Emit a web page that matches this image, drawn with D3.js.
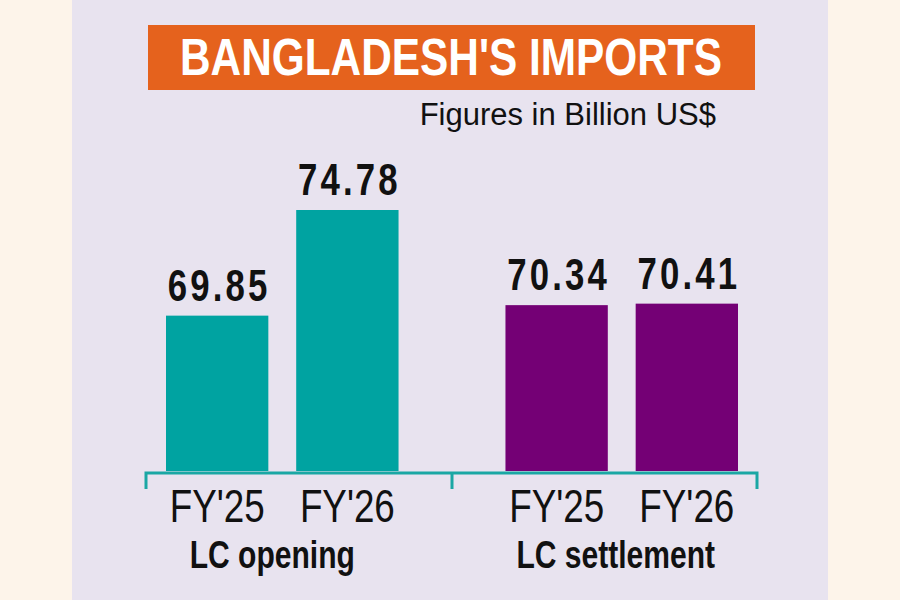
<!DOCTYPE html>
<html>
<head>
<meta charset="utf-8">
<script src="https://cdn.jsdelivr.net/npm/d3@7"></script>
<style>
  body { margin: 0; background: #fdf4ea; }
  svg { display: block; }
  text { font-family: "Liberation Sans", Arial, sans-serif; }
</style>
</head>
<body>
<svg id="chart" width="900" height="600"></svg>
<script>
// data
var groups = ["LC opening", "LC settlement"]
var years = ["FY'25", "FY'26"]
var opening = [69.85, 74.78]
var settlement = [70.34, 70.41]
var groupColors = ["#00a3a1", "#740075"]

var rows = [opening, settlement].map(function (vals, i) {
    return { group: groups[i], values: years.map(function (y, j) { return { year: y, value: vals[j] }; }) };
});

// narrow the glyphs horizontally around the text's own x (no condensed font installed)
function squeeze(sel, k) {
    sel.attr("transform", function () {
        var x = +d3.select(this).attr("x")
        return "translate(" + x + ",0) scale(" + k + ",1) translate(" + (-x) + ",0)"
    })
}

var svg = d3.select("#chart")

// lavender panel
svg.append("rect")
    .attr("x", 72).attr("y", 0)
    .attr("width", 756).attr("height", 600)
    .attr("fill", "#e8e3ef")

// title bar
svg.append("rect")
    .attr("x", 148).attr("y", 25)
    .attr("width", 607).attr("height", 65)
    .attr("fill", "#e5621d")
svg.append("text")
    .attr("x", 451).attr("y", 75)
    .attr("text-anchor", "middle")
    .attr("font-size", 51).attr("font-weight", "bold")
    .attr("fill", "#fff")
    .attr("textLength", 542).attr("lengthAdjust", "spacingAndGlyphs")
    .text("BANGLADESH'S IMPORTS")

svg.append("text")
    .attr("x", 716).attr("y", 125)
    .attr("text-anchor", "end")
    .attr("font-size", 31)
    .attr("fill", "#111")
    .text("Figures in Billion US$")
    .call(squeeze, 1)

// scales
var baseY = 471
var x0 = d3.scaleBand()
    .domain(groups)
    .range([166, 738])
    .paddingInner(0.315)

var x1 = d3.scaleBand()
    .domain(years)
    .range([0, x0.bandwidth()])
    .paddingInner(0.214)

var y = d3.scaleLinear()
    .domain([62.6, 74.78])
    .range([baseY, 210])

var color = d3.scaleOrdinal().domain(groups).range(groupColors)

var g = svg.selectAll(".grp")
    .data(rows)
    .enter().append("g")
    .attr("class", "grp")
    .attr("transform", function (d) { return "translate(" + x0(d.group) + ",0)"; })

g.selectAll("rect")
    .data(function (d) { return d.values.map(function (v) { return { group: d.group, year: v.year, value: v.value }; }); })
    .enter().append("rect")
    .attr("x", function (d) { return x1(d.year); })
    .attr("y", function (d) { return y(d.value); })
    .attr("width", x1.bandwidth())
    .attr("height", function (d) { return baseY - y(d.value); })
    .attr("fill", function (d) { return color(d.group); })

g.selectAll(".val")
    .data(function (d) { return d.values; })
    .enter().append("text")
    .attr("class", "val")
    .attr("x", function (d) { return x1(d.year) + x1.bandwidth() / 2 + 2; })
    .attr("y", function (d) { return y(d.value) - 15; })
    .attr("text-anchor", "middle")
    .attr("font-size", 44).attr("font-weight", "bold")
    .attr("letter-spacing", 4)
    .attr("fill", "#111")
    .text(function (d) { return d.value.toFixed(2); })
    .call(squeeze, 0.79)

g.selectAll(".yr")
    .data(function (d) { return d.values; })
    .enter().append("text")
    .attr("class", "yr")
    .attr("x", function (d) { return x1(d.year) + x1.bandwidth() / 2; })
    .attr("y", 522)
    .attr("text-anchor", "middle")
    .attr("font-size", 46)
    .attr("fill", "#111")
    .text(function (d) { return d.year; })
    .call(squeeze, 0.8)

g.append("text")
    .attr("x", function (d, i) { return i === 0 ? x0.bandwidth() / 2 - 10 : x0.bandwidth() / 2 - 6; })
    .attr("y", 568)
    .attr("text-anchor", "middle")
    .attr("font-size", 39).attr("font-weight", "bold")
    .attr("fill", "#111")
    .text(function (d) { return d.group; })
    .call(squeeze, 0.77)

// baseline with group separators
var xl = x0(groups[0]) - 20
var xr = x0(groups[1]) + x0.bandwidth() + 19
var xm = (x0(groups[0]) + x0.bandwidth() + x0(groups[1])) / 2
svg.append("path")
    .attr("d", "M" + xl + "," + (baseY + 18) + "V" + (baseY + 2) + "H" + xr + "V" + (baseY + 18) +
        "M" + xm + "," + (baseY + 2) + "V" + (baseY + 18))
    .attr("fill", "none")
    .attr("stroke", "#1aa7a4")
    .attr("stroke-width", 3)
</script>
</body>
</html>
